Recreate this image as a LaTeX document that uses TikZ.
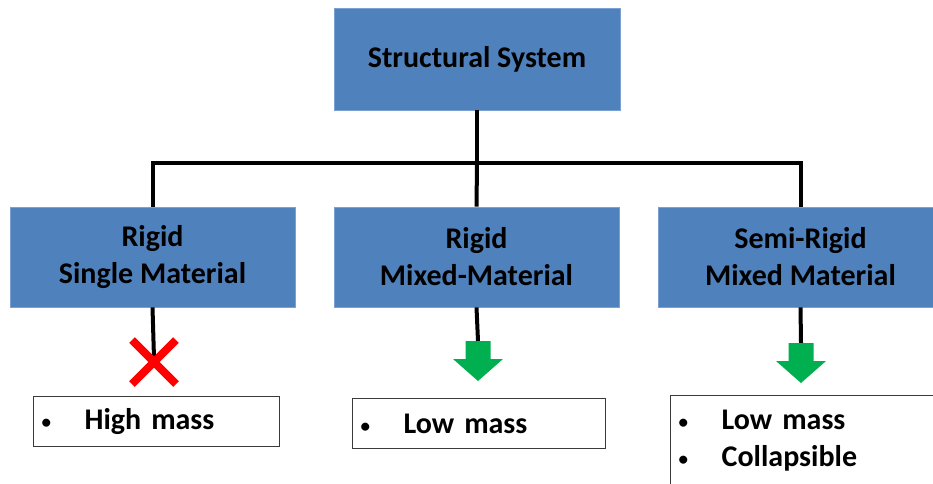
\documentclass[tikz,border=0pt]{standalone}
\usepackage{fontspec}
\setmainfont{Carlito}
\usepackage{xcolor}
\usepackage{tikz}
\usetikzlibrary{shapes.misc}

\definecolor{boxblue}{HTML}{4F81BD}
\definecolor{boxedge}{HTML}{7BA0D2}
\definecolor{okgreen}{HTML}{00B050}
\definecolor{listedge}{HTML}{3A3A3A}

\newcommand{\bitem}[1]{\makebox[43pt][l]{\raisebox{1pt}{\fontsize{19}{19}\selectfont\textbullet}}#1}

\begin{document}
\begin{tikzpicture}[
    x=1pt, y=-1pt,
    every node/.style={font=\bfseries\fontsize{30}{37}\selectfont},
    category/.style={rectangle, draw=boxedge, line width=0.8pt, fill=boxblue, align=center, inner sep=0pt, minimum width=285pt, minimum height=100pt},
    listbox/.style={rectangle, draw=listedge, line width=1.3pt, align=left, inner xsep=8pt, inner ysep=0pt, anchor=north west},
    link/.style={line width=4pt},
    okarrow/.pic={\fill[okgreen] (-12.5,0) -- (12.5,0) -- (12.5,18) -- (25,18) -- (0,40) -- (-25,18) -- (-12.5,18) -- cycle;}
]
\useasboundingbox (0,0) rectangle (933,483);
\clip (0,0) rectangle (933,483);

\node[category, minimum width=286pt, minimum height=102pt] (system) at (477,59) {Structural System};

\node[category] (rigid) at (152.5,257) {Rigid\\Single Material};
\node[category] (mixed) at (476.5,257) {Rigid\\Mixed-Material};
\node[category] (semi) at (800.5,257) {Semi-Rigid\\Mixed Material};

% tree connectors
\coordinate (bar) at (477,163);
\draw[link] (system.south) -- (bar);
\draw[link] (rigid.north) |- (bar) -| (semi.north);
\draw[link] (bar) -- (mixed.north);

% verdict marks
\coordinate (mixedtip) at (478,341);
\coordinate (semitip) at (801,343);
\draw[link] (rigid.south) -- (154,358);
\node[cross out, draw=red, line width=8pt, minimum size=36pt, inner sep=0pt] (xmark) at (154,362) {};
\draw[link] (mixed.south) -- (mixedtip);
\draw[link] (semi.south) -- (semitip);
\pic at (mixedtip) {okarrow};
\pic at (semitip) {okarrow};

% property lists
\node[listbox, text width=230pt, minimum height=50pt] (highmass) at (33,396) {\bitem{High mass}};
\node[listbox, text width=237pt, minimum height=50pt] (lowmass) at (352,398) {\bitem{Low mass}};
\node[listbox, text width=259pt, minimum height=90pt] (collapse) at (670,395) {\bitem{Low mass}\\\bitem{Collapsible}};

\end{tikzpicture}
\end{document}
